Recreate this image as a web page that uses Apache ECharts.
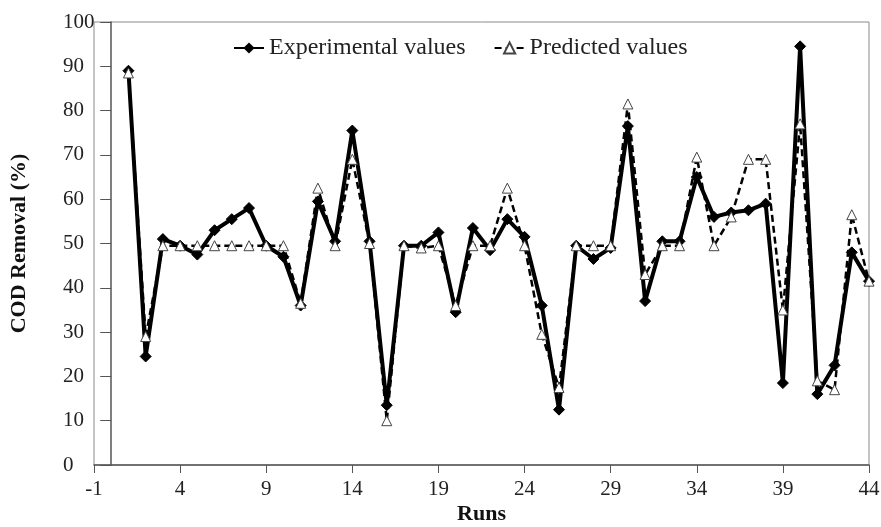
<!DOCTYPE html>
<html>
<head>
<meta charset="utf-8">
<script src="https://cdn.jsdelivr.net/npm/echarts@6/dist/echarts.min.js"></script>
<style>
html,body{margin:0;padding:0;background:#fff;}
#chart{width:881px;height:527px;}
</style>
</head>
<body>
<div id="chart"></div>
<script>
var runs = [1,2,3,4,5,6,7,8,9,10,11,12,13,14,15,16,17,18,19,20,21,22,23,24,25,26,27,28,29,30,31,32,33,34,35,36,37,38,39,40,41,42,43,44];
var experimental = [89,24.5,51,49.5,47.5,53,55.5,58,49.5,47,36,59.5,50.5,75.5,50.5,13.5,49.5,49.5,52.5,34.5,53.5,48.5,55.5,51.5,36,12.5,49.5,46.5,49,76.5,37,50.5,50.5,65,56,57,57.5,59,18.5,94.5,16,22.5,48,41.5];
var predicted = [88.5,29,49.5,49.5,49.5,49.5,49.5,49.5,49.5,49.5,36.5,62.5,49.5,69,50,10,49.5,49,49.5,36,49.5,49.5,62.5,49.5,29.5,17.5,49.5,49.5,49.5,81.5,43,49.5,49.5,69.5,49.5,56,69,69,35,77,19,17,56.5,41.5];
var xTicks = [-1,4,9,14,19,24,29,34,39,44];

function pairs(xs, ys){ return xs.map(function(x,i){ return [x, ys[i]]; }); }

var font = 'Liberation Serif, Times New Roman, serif';
var chart = echarts.init(document.getElementById('chart'), null, {renderer:'canvas'});
chart.setOption({
  animation:false,
  backgroundColor:'#fff',
  grid:{left:94, right:12, top:22, bottom:62, containLabel:false, outerBoundsMode:'none',
        show:true, borderColor:'#8a8a8a', borderWidth:1, backgroundColor:'transparent'},
  legend:{
    top:31, left:228, itemGap:28, itemWidth:30, itemHeight:14,
    textStyle:{fontFamily:font, fontSize:24, color:'#222'},
    data:['Experimental values','Predicted values']
  },
  xAxis:{
    type:'value', min:xTicks[0], max:xTicks[xTicks.length-1], interval:5,
    name:'Runs', nameLocation:'middle', nameGap:38, nameMoveOverlap:false,
    nameTextStyle:{fontFamily:font, fontSize:22, fontWeight:'bold', color:'#111'},
    axisLine:{onZero:false, lineStyle:{color:'#555', width:1.5}},
    axisTick:{show:true, length:8, lineStyle:{color:'#555'}},
    axisLabel:{fontFamily:font, fontSize:21, color:'#222', margin:14},
    splitLine:{show:false}
  },
  yAxis:{
    type:'value', min:0, max:100, interval:10,
    name:'COD Removal (%)', nameLocation:'middle', nameGap:64, nameRotate:90, nameMoveOverlap:false,
    nameTextStyle:{fontFamily:font, fontSize:22, fontWeight:'bold', color:'#111'},
    axisLine:{show:true, onZero:true, lineStyle:{color:'#555', width:1.5}},
    axisTick:{show:true, length:11, lineStyle:{color:'#555'}},
    axisLabel:{fontFamily:font, fontSize:21, color:'#222', margin:31, align:'left'},
    splitLine:{show:false}
  },
  series:[
    {
      name:'Experimental values', type:'line', data:pairs(runs, experimental),
      symbol:'diamond', symbolSize:11, showAllSymbol:true,
      lineStyle:{color:'#000', width:4},
      itemStyle:{color:'#000', borderColor:'#000'},
      z:2
    },
    {
      name:'Predicted values', type:'line', data:pairs(runs, predicted),
      symbol:'triangle', symbolSize:10, showAllSymbol:true,
      lineStyle:{color:'#000', width:2.5, type:[7,4]},
      itemStyle:{color:'#fff', borderColor:'#444', borderWidth:1},
      z:3
    }
  ]
});
</script>
</body>
</html>
